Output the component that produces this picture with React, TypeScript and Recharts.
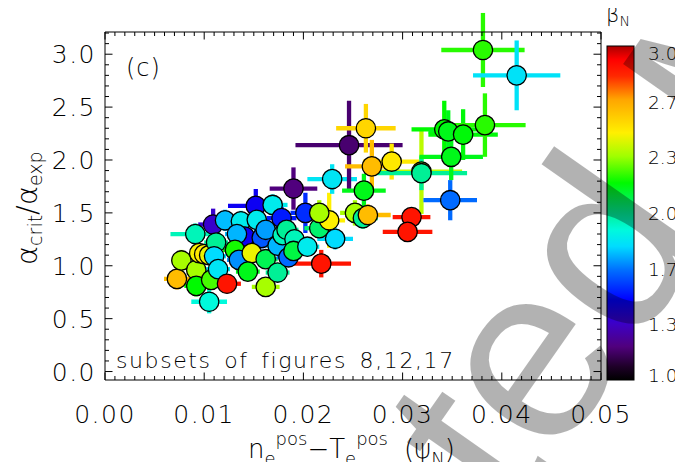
import React from 'react';
import { ScatterChart, Scatter, XAxis, YAxis, ErrorBar } from 'recharts';

// pedestal shift n_e^pos - T_e^pos (psi_N)
const shift = [
  0.0105, 0.00725, 0.0077, 0.0092, 0.0092, 0.0091, 0.0095, 0.0100, 0.0105, 0.0109,
  0.0121, 0.0112, 0.0110, 0.0107, 0.0114, 0.0123, 0.0137, 0.0152, 0.0169, 0.0153,
  0.0141, 0.0133, 0.0158, 0.0162, 0.0131, 0.0135, 0.0148, 0.0144, 0.0162, 0.0162,
  0.0174, 0.0178, 0.0174, 0.0179, 0.0183, 0.0185, 0.0191, 0.0190, 0.0204, 0.0190,
  0.0202, 0.0216, 0.0226, 0.0216, 0.0232, 0.0218, 0.0229, 0.0246, 0.0263, 0.0261,
  0.0289, 0.0269, 0.0252, 0.0260, 0.0265, 0.0319, 0.0319, 0.0309, 0.0305, 0.0348,
  0.0349, 0.0342, 0.0346, 0.0361, 0.0383, 0.0381, 0.0415,
];

// alpha_crit / alpha_exp
const ratio = [
  0.66, 0.876, 1.05, 0.96, 0.81, 1.30, 1.12, 1.11, 1.10, 1.39,
  1.43, 1.22, 1.09, 0.867, 0.968, 0.83, 1.42, 1.566, 1.575, 1.434,
  1.276, 1.30, 1.264, 1.34, 1.15, 1.056, 1.12, 0.945, 1.062, 0.80,
  0.936, 1.45, 1.19, 1.29, 1.34, 1.08, 1.25, 1.14, 1.18, 1.73,
  1.50, 1.355, 1.43, 1.50, 1.255, 1.02, 1.82, 2.14, 2.30, 1.71,
  1.985, 1.94, 1.50, 1.45, 1.48, 1.89, 1.875, 1.46, 1.32, 1.62,
  2.03, 2.29, 2.27, 2.24, 2.33, 3.04, 2.80,
];

const shiftErr = [
  0.0018, 0.0013, 0.0010, 0.0010, 0.0012, 0.0025, 0.0010, 0.0010, 0.0010, 0.0015,
  0.0015, 0.0012, 0.0012, 0.0012, 0.0012, 0.0014, 0.0012, 0.0028, 0.0015, 0.0012,
  0.0012, 0.0012, 0.0012, 0.0012, 0.0012, 0.0012, 0.0012, 0.0012, 0.0012, 0.0014,
  0.0012, 0.0015, 0.0012, 0.0012, 0.0012, 0.0012, 0.0012, 0.0012, 0.0012, 0.0024,
  0.0015, 0.0015, 0.0016, 0.0015, 0.0018, 0.0030, 0.0025, 0.0054, 0.0030, 0.0022,
  0.0029, 0.0027, 0.0015, 0.0015, 0.0023, 0.0041, 0.0046, 0.0019, 0.0025, 0.0027,
  0.0032, 0.0033, 0.0020, 0.0035, 0.0041, 0.0042, 0.0044,
];

const ratioErr = [
  0.11, 0.10, 0.10, 0.08, 0.10, 0.10, 0.08, 0.08, 0.08, 0.15,
  0.10, 0.10, 0.08, 0.08, 0.08, 0.08, 0.10, 0.16, 0.10, 0.10,
  0.10, 0.10, 0.10, 0.10, 0.08, 0.08, 0.08, 0.08, 0.08, 0.06,
  0.08, 0.10, 0.08, 0.08, 0.08, 0.08, 0.08, 0.08, 0.08, 0.20,
  0.19, 0.10, 0.26, 0.12, 0.10, 0.13, 0.14, 0.42, 0.23, 0.16,
  0.17, 0.25, 0.12, 0.10, 0.10, 0.40, 0.16, 0.08, 0.06, 0.19,
  0.22, 0.27, 0.20, 0.24, 0.30, 0.35, 0.33,
];

// normalised beta of each discharge
const betaN = [
  1.90, 2.62, 2.35, 2.35, 2.18, 1.95, 2.47, 2.50, 2.45, 1.35,
  1.76, 2.00, 1.80, 2.25, 1.83, 2.87, 1.85, 1.45, 1.85, 1.85,
  1.45, 1.75, 1.62, 1.72, 2.20, 1.70, 2.45, 2.15, 2.08, 2.35,
  2.00, 1.52, 1.75, 1.95, 2.00, 1.65, 1.95, 2.10, 1.85, 1.20,
  1.55, 2.05, 2.48, 2.35, 1.80, 2.87, 1.83, 1.18, 2.55, 2.15,
  2.50, 2.62, 2.35, 2.00, 2.62, 2.38, 2.00, 2.87, 2.87, 1.65,
  2.15, 2.18, 2.15, 2.17, 2.22, 2.22, 1.82,
];

const xLabels = ['0.00', '0.01', '0.02', '0.03', '0.04', '0.05'];
const yLabels = ['0.0', '0.5', '1.0', '1.5', '2.0', '2.5', '3.0'];
const barLabels = [1.0, 4 / 3, 5 / 3, 2.0, 7 / 3, 8 / 3, 3.0];

// rainbow colour table, beta_N -> colour
const CMAP: [number, number[]][] = [
  [1.0, [0, 0, 0]],
  [1.08, [30, 0, 40]],
  [1.2, [80, 0, 125]],
  [1.34, [60, 0, 200]],
  [1.48, [0, 0, 255]],
  [1.66, [0, 112, 255]],
  [1.8, [0, 220, 255]],
  [1.9, [0, 250, 220]],
  [2.0, [0, 240, 150]],
  [2.18, [0, 250, 0]],
  [2.34, [160, 255, 0]],
  [2.48, [255, 240, 0]],
  [2.68, [255, 165, 0]],
  [2.82, [255, 40, 0]],
  [2.92, [255, 0, 0]],
  [3.0, [170, 0, 0]],
];

const toHex = (c: number[]) =>
  '#' + c.map((v) => Math.round(v).toString(16).padStart(2, '0')).join('');

const colorFor = (b: number) => {
  for (let i = 1; i < CMAP.length; i++) {
    const [b0, c0] = CMAP[i - 1];
    const [b1, c1] = CMAP[i];
    if (b <= b1) {
      const t = Math.max(0, (b - b0) / (b1 - b0));
      return toHex(c0.map((v, k) => v + (c1[k] - v) * t));
    }
  }
  return toHex(CMAP[CMAP.length - 1][1]);
};

const points = shift.map((x, i) => ({
  x,
  y: ratio[i],
  ex: shiftErr[i],
  ey: ratioErr[i],
  c: colorFor(betaN[i]),
}));

const W = 683;
const H = 470;
const LEFT = 105;
const TOP = 32;
const RIGHT = 601;
const BOTTOM = 380;
const FONT = '"DejaVu Sans", sans-serif';

const xTicks = Array.from({ length: 51 }, (_, i) => i / 1000);
const yTicks = Array.from({ length: 33 }, (_, i) => i / 10);
const isMajorX = (v: number) => Math.abs(v * 100 - Math.round(v * 100)) < 1e-6;
const isMajorY = (v: number) => Math.abs(v * 2 - Math.round(v * 2)) < 1e-6;

const MAJOR = 7.5;
const MINOR = 4;

const BottomTick = (p: any) => {
  const v = p.payload.value;
  const major = isMajorX(v);
  const x = p.x;
  return (
    <g>
      <line x1={x} x2={x} y1={BOTTOM} y2={BOTTOM - (major ? MAJOR : MINOR)} stroke="#000" />
      {major && (
        <text x={x} y={423} textAnchor="middle" fontFamily={FONT} fontWeight={200} fontSize={25} letterSpacing={1.5} fill="#000">
          {xLabels[Math.round(v * 100)]}
        </text>
      )}
    </g>
  );
};

const TopTick = (p: any) => {
  const major = isMajorX(p.payload.value);
  return <line x1={p.x} x2={p.x} y1={TOP} y2={TOP + (major ? MAJOR : MINOR)} stroke="#000" />;
};

const LeftTick = (p: any) => {
  const v = p.payload.value;
  const major = isMajorY(v);
  const y = p.y;
  return (
    <g>
      <line x1={LEFT} x2={LEFT + (major ? MAJOR : MINOR)} y1={y} y2={y} stroke="#000" />
      {major && (
        <text x={96} y={y + 9} textAnchor="end" fontFamily={FONT} fontWeight={200} fontSize={25} letterSpacing={1.5} fill="#000">
          {yLabels[Math.round(v * 2)]}
        </text>
      )}
    </g>
  );
};

const RightTick = (p: any) => {
  const major = isMajorY(p.payload.value);
  return <line x1={RIGHT} x2={RIGHT - (major ? MAJOR : MINOR)} y1={p.y} y2={p.y} stroke="#000" />;
};

const Dot = (p: any) => (
  <circle cx={p.cx} cy={p.cy} r={9.7} fill={p.payload.c} stroke="#000" strokeWidth={1.3} />
);

// colour bar geometry
const CB = { x: 607, y: 46, w: 27, h: 334 };
const cbLabelY = (v: number) => {
  const y = CB.y + CB.h - ((v - 1) / 2) * CB.h;
  return Math.min(Math.max(y, 52.5), 375);
};

const ColorBar = () => (
  <g>
    <defs>
      <linearGradient id="betaGrad" x1="0" y1="1" x2="0" y2="0">
        {CMAP.map(([b, c]) => (
          <stop key={b} offset={(b - 1) / 2} stopColor={toHex(c)} />
        ))}
      </linearGradient>
    </defs>
    <rect x={CB.x} y={CB.y} width={CB.w} height={CB.h} fill="url(#betaGrad)" stroke="#000" strokeWidth={1} />
    {barLabels.map((v) => (
      <text key={v} x={648} y={cbLabelY(v) + 7} fontFamily={FONT} fontWeight={200} fontSize={18.5} fill="#000">
        {v.toFixed(1)}
      </text>
    ))}
    <text x={606} y={22} fontFamily={FONT} fontWeight={200} fontSize={21} fill="#000">
      β<tspan fontSize={14} dy={4}>N</tspan>
    </text>
  </g>
);

const Labels = () => (
  <g fontFamily={FONT} fontWeight={200} fill="#000">
    <text x={126} y={76} fontSize={24} letterSpacing={1}>(c)</text>
    <text x={116} y={368} fontSize={22} letterSpacing={1.6} wordSpacing={4}>
      subsets of figures 8,12,17
    </text>
    <text x={248} y={458} fontSize={26}>
      n<tspan fontSize={18} dy={7}>e</tspan>
      <tspan fontSize={18} dy={-20}>pos</tspan>
      <tspan fontSize={26} dy={13}>−T</tspan>
      <tspan fontSize={18} dy={7}>e</tspan>
      <tspan fontSize={18} dy={-20}>pos</tspan>
      <tspan fontSize={26} dy={13} dx={16}>(ψ</tspan>
      <tspan fontSize={18} dy={7}>N</tspan>
      <tspan fontSize={26} dy={-7}>)</tspan>
    </text>
    <text transform="translate(37,265) rotate(-90)" fontSize={29}>
      α<tspan fontSize={19} dy={5}>crit</tspan>
      <tspan fontSize={29} dy={-5}>/α</tspan>
      <tspan fontSize={19} dy={5}>exp</tspan>
    </text>
  </g>
);

// diagonal stamp, split at the "t" so the visible letters sit in a fixed spot
const WM = { x: 513, y: 521, angle: -55, size: 250 };
const Watermark = () => (
  <g
    transform={`rotate(${WM.angle} ${WM.x} ${WM.y})`}
    fontFamily='"Liberation Sans", Arial, sans-serif'
    fontSize={WM.size}
    fill="#000"
    fillOpacity={0.3}
  >
    <text x={WM.x} y={WM.y} textAnchor="end">Accep</text>
    <text x={WM.x} y={WM.y}>ted Manuscript</text>
  </g>
);

const App = () => (
  <div style={{ position: 'relative', width: W, height: H, margin: -8, background: '#fff', overflow: 'hidden' }}>
    <ScatterChart width={W} height={H} margin={{ top: TOP - 1, right: W - RIGHT - 1, bottom: H - BOTTOM - 1, left: LEFT - 1 }}>
      <XAxis xAxisId="b" type="number" dataKey="x" domain={[0, 0.05]} ticks={xTicks} interval={0}
        height={1} allowDataOverflow tickLine={false} axisLine={{ stroke: '#000' }} tick={BottomTick} />
      <XAxis xAxisId="t" orientation="top" type="number" dataKey="x" domain={[0, 0.05]} ticks={xTicks} interval={0}
        height={1} allowDataOverflow tickLine={false} axisLine={{ stroke: '#000' }} tick={TopTick} />
      <YAxis yAxisId="l" type="number" dataKey="y" domain={[-0.08, 3.21]} ticks={yTicks} interval={0}
        width={1} allowDataOverflow tickLine={false} axisLine={{ stroke: '#000' }} tick={LeftTick} />
      <YAxis yAxisId="r" orientation="right" type="number" dataKey="y" domain={[-0.08, 3.21]} ticks={yTicks} interval={0}
        width={1} allowDataOverflow tickLine={false} axisLine={{ stroke: '#000' }} tick={RightTick} />
      {points.map((pt, i) => (
        <Scatter key={`err-${i}`} data={[pt]} xAxisId="b" yAxisId="l" isAnimationActive={false} shape={() => <g />}>
          <ErrorBar dataKey="ex" direction="x" width={0} stroke={pt.c} strokeWidth={4.3} isAnimationActive={false} />
          <ErrorBar dataKey="ey" direction="y" width={0} stroke={pt.c} strokeWidth={4.3} isAnimationActive={false} />
        </Scatter>
      ))}
      <Scatter data={points} xAxisId="b" yAxisId="l" isAnimationActive={false} shape={Dot} />
    </ScatterChart>
    <svg width={W} height={H} style={{ position: 'absolute', left: 0, top: 0, pointerEvents: 'none' }}>
      <ColorBar />
      <Labels />
      <Watermark />
    </svg>
  </div>
);

export default App;
